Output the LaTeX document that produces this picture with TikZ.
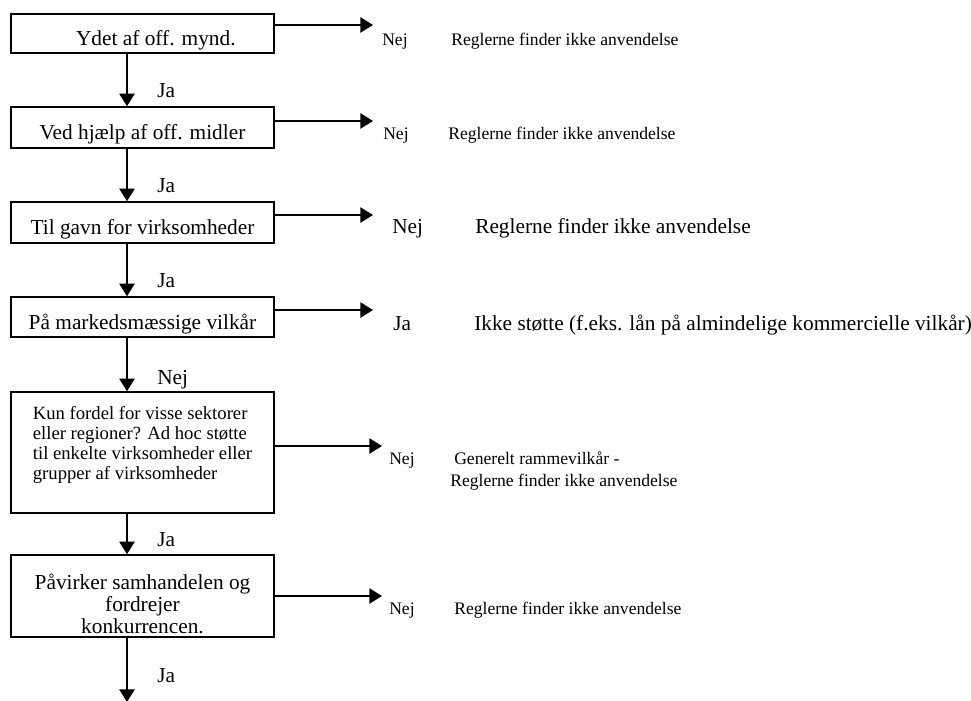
\documentclass[tikz,border=0pt]{standalone}
\usepackage{fontspec}
\setmainfont{Liberation Serif}
\usetikzlibrary{arrows.meta}

\tikzset{
    box/.style={draw, line width=1.1pt, minimum width=197.25pt, inner sep=0pt,
        font=\fontsize{16}{16.5}\selectfont},
    oneline/.style={text height=18pt, text depth=0pt},
    flow/.style={-{Triangle[length=9.5pt,width=11.5pt]}, line width=1.1pt},
    answer/.style={anchor=base west, inner sep=0pt, font=\fontsize{13.2}{15}\selectfont},
    biganswer/.style={answer, font=\fontsize{16}{18}\selectfont},
    cond/.style={anchor=base west, inner sep=0pt, font=\fontsize{16}{18}\selectfont},
}

\begin{document}
\begin{tikzpicture}[x=0.75pt, y=-0.75pt]
    \useasboundingbox (0,0) rectangle (971,700);

    % Questions on the left
    \node[box, oneline, minimum height=29.25pt] (ydet) at (142.5,33.5) {\hspace*{20pt}Ydet af off. mynd.};
    \node[box, oneline, minimum height=30.75pt] (midler) at (142.5,127.5) {Ved hjælp af off. midler};
    \node[box, oneline, minimum height=30.75pt] (gavn) at (142.5,222.5) {Til gavn for virksomheder};
    \node[box, oneline, minimum height=30pt] (marked) at (142.5,317) {På markedsmæssige vilkår};
    \node[box, minimum height=90.75pt, align=left, font=\fontsize{14}{15}\selectfont] (fordel) at (142.5,452.5)
        {Kun fordel for visse sektorer\\eller regioner? Ad hoc støtte\\til enkelte virksomheder eller\\grupper af virksomheder\rule[-14pt]{0pt}{14pt}};
    \node[box, minimum height=61.5pt, align=center] (samhandel) at (142.5,596)
        {\rule{0pt}{24pt}Påvirker samhandelen og\\fordrejer\\konkurrencen.};

    % Down the spine
    \coordinate (spine) at (127,0);
    \coordinate (out) at (127,702);
    \draw[flow] (ydet.south -| spine) -- (midler.north -| spine);
    \draw[flow] (midler.south -| spine) -- (gavn.north -| spine);
    \draw[flow] (gavn.south -| spine) -- (marked.north -| spine);
    \draw[flow] (marked.south -| spine) -- (fordel.north -| spine);
    \draw[flow] (fordel.south -| spine) -- (samhandel.north -| spine);
    \draw[flow] (samhandel.south -| spine) -- (out);

    \node[cond] (ja1) at (157,97) {Ja};
    \node[cond] (ja2) at (157,192) {Ja};
    \node[cond] (ja3) at (157,287) {Ja};
    \node[cond] (nej4) at (157,384) {Nej};
    \node[cond] (ja5) at (157,546) {Ja};
    \node[cond] (ja6) at (157,682) {Ja};

    % Answers to the right
    \coordinate (r1) at (373,25);
    \coordinate (r2) at (373,121);
    \coordinate (r3) at (373,215);
    \coordinate (r4) at (373,310);
    \coordinate (r5) at (382,446);
    \coordinate (r6) at (382,596);
    \draw[flow] (ydet.east |- r1) -- (r1);
    \draw[flow] (midler.east |- r2) -- (r2);
    \draw[flow] (gavn.east |- r3) -- (r3);
    \draw[flow] (marked.east |- r4) -- (r4);
    \draw[flow] (fordel.east |- r5) -- (r5);
    \draw[flow] (samhandel.east |- r6) -- (r6);

    \node[answer] (nej1) at (382,45) {Nej};
    \node[answer] (regel1) at (451,45) {Reglerne finder ikke anvendelse};
    \node[answer] (nej2) at (383,139) {Nej};
    \node[answer] (regel2) at (448,139) {Reglerne finder ikke anvendelse};
    \node[biganswer] (nej3) at (392,233) {Nej};
    \node[biganswer] (regel3) at (475,233) {Reglerne finder ikke anvendelse};
    \node[biganswer] (ja4) at (393,330) {Ja};
    \node[biganswer] (stoette) at (474,330) {Ikke støtte (f.eks. lån på almindelige kommercielle vilkår)};
    \node[answer] (nej5) at (389,464) {Nej};
    \node[answer] (ramme) at (454,464) {Generelt rammevilkår -};
    \node[answer] (regel5) at (450,486) {Reglerne finder ikke anvendelse};
    \node[answer] (nej6) at (389,614) {Nej};
    \node[answer] (regel6) at (454,614) {Reglerne finder ikke anvendelse};
\end{tikzpicture}
\end{document}
